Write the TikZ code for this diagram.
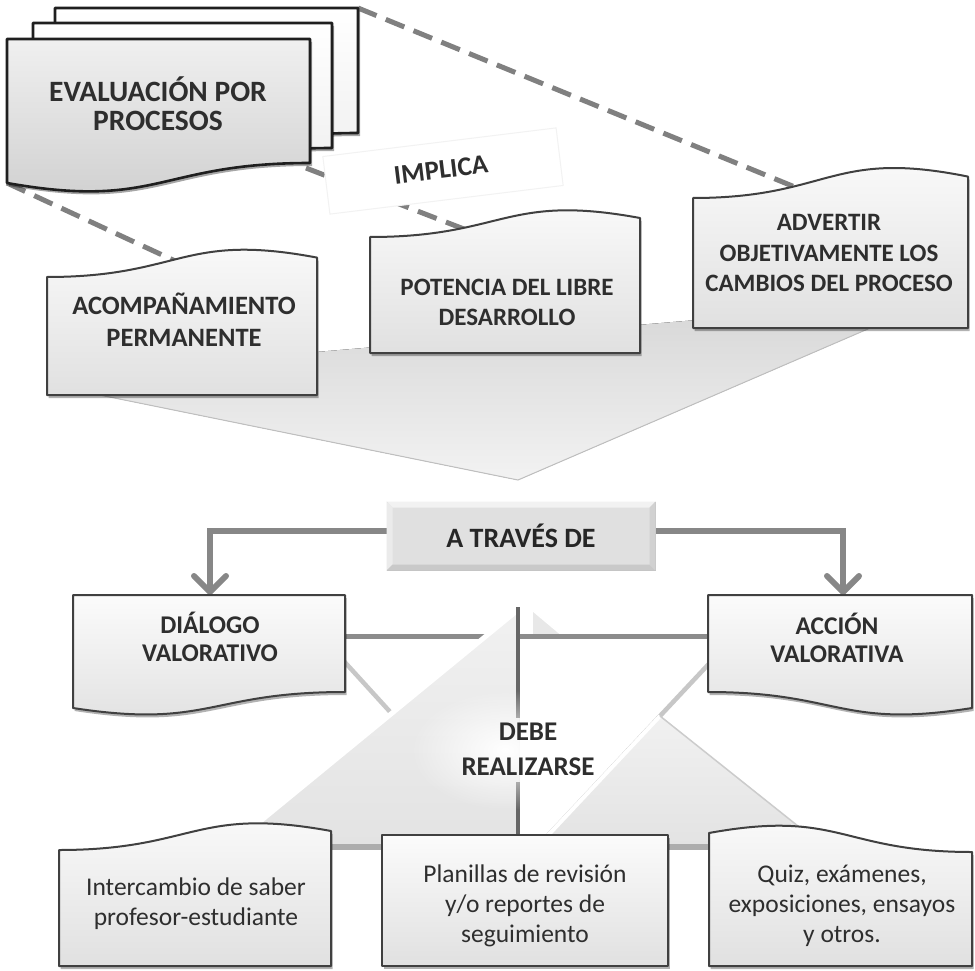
\documentclass[tikz,border=0pt]{standalone}
\usepackage{fontspec}
\setmainfont{Carlito}
\usetikzlibrary{arrows.meta,shadows,fadings,calc}
\tikzfading[name=glowfade, inner color=transparent!0, outer color=transparent!100]
\begin{document}
\begin{tikzpicture}[x=1pt,y=-1pt,
  pgfront/.style={draw=black!88, line width=2.6pt, line join=round, top color=gray!12, bottom color=gray!38,
     drop shadow={shadow xshift=2pt, shadow yshift=-3pt, opacity=0.35, fill=black}},
  pgback/.style={draw=black!88, line width=2.6pt, line join=round, top color=white, bottom color=gray!14,
     drop shadow={shadow xshift=2pt, shadow yshift=-3pt, opacity=0.35, fill=black}},
  box/.style={draw=black!75, line width=2pt, line join=round, top color=gray!3, bottom color=gray!24,
     drop shadow={shadow xshift=1.5pt, shadow yshift=-3pt, opacity=0.3, fill=black}},
  dashln/.style={draw=black!50, line width=5pt, dash pattern=on 20pt off 10pt},
  conn/.style={draw=black!47, line width=6pt, -{Straight Barb[length=16pt,width=32pt,round]}},
  lbl/.style={text=black!82, align=center, font=\bfseries\fontsize{25}{30}\selectfont},
  lbln/.style={text=black!82, align=center, font=\fontsize{25.5}{30}\selectfont},
]
\useasboundingbox[fill=white] (0,0) rectangle (975,971);

% ---------- big gray funnel (top) ----------
\fill[top color=gray!32, bottom color=gray!10] (90,371) -- (935,300) -- (518,480) -- (90,393) -- cycle;
\draw[black!25, line width=1pt] (90,393) -- (518,480) -- (935,300);

% ---------- named anchor coordinates ----------
\coordinate (backTR) at (358,8);
\coordinate (frontBL) at (7,183);
\coordinate (frontBR) at (306,168);
\coordinate (acompTop) at (186,266);
\coordinate (potTop) at (482,236);
\coordinate (advTop) at (807,192);
\coordinate (dialTop) at (210,595);
\coordinate (accTop) at (843,595);

% ---------- dashed connectors ----------
\draw[dashln] (backTR) -- (advTop);
\draw[dashln] (frontBL) -- (acompTop);
\draw[dashln] (frontBR) -- (potTop);

% ---------- IMPLICA label ----------
\filldraw[fill=white, draw=gray!10, line width=1pt, rotate around={7:(443,171)}] (325.5,142) rectangle (560.5,200);
\node[rotate=7, inner sep=0pt, text=black!82, font=\bfseries\fontsize{27}{30}\selectfont] (impl) at (441,170) {IMPLICA};

% ---------- stacked pages ----------
\path[pgback] (55,8) -- (358,8) -- (358,133) .. controls (206.5,133) and (206.5,181) .. (55,154) -- cycle;
\path[pgback] (33,23) -- (332,23) -- (332,148) .. controls (182.5,148) and (182.5,196) .. (33,169) -- cycle;
\path[pgfront] (7,39) -- (310,39) -- (310,163) .. controls (158.5,163) and (158.5,210) .. (7,183) -- cycle;
\node[lbl, font=\bfseries\fontsize{29.5}{29}\selectfont] (eval) at (158,104) {EVALUACIÓN POR\\PROCESOS};

% ---------- upper three boxes ----------
\path[box] (47,395) -- (47,277) .. controls (182,277) and (182,232) .. (317,257.6) -- (317,395) -- cycle;
\node[lbl, font=\bfseries\fontsize{26.5}{32}\selectfont] (acomp) at (184,320) {ACOMPAÑAMIENTO\\PERMANENTE};

\path[box] (370,353) -- (370,237) .. controls (505,237) and (505,193) .. (640,218) -- (640,353) -- cycle;
\node[lbl] (pot) at (507,302) {POTENCIA DEL LIBRE\\DESARROLLO};

\path[box] (693,328) -- (693,198) .. controls (830.5,198) and (830.5,148.6) .. (968,176.6) -- (968,328) -- cycle;
\node[lbl, font=\bfseries\fontsize{25}{30.5}\selectfont] (adv) at (829,253) {ADVERTIR\\OBJETIVAMENTE LOS\\CAMBIOS DEL PROCESO};

% ---------- lower structure ----------
\filldraw[fill=gray!18, draw=white, line width=1.5pt] (532,610) -- (532,636) -- (563,636) -- cycle;
\fill[white] (321,636) -- (735,636) -- (525,860) -- cycle;
\draw[line width=4.5pt, black!22] (321,636) -- (525,860) -- (735,636);
\draw[line width=5pt, black!45] (321,636) -- (735,636);
\fill[top color=gray!11, bottom color=gray!22] (519,609) -- (519,846) -- (230,846) -- cycle;
\draw[white, line width=5pt] (519,609) -- (230,846);
\fill[top color=gray!11, bottom color=gray!22] (660,716) -- (823,846) -- (538,846) -- cycle;
\draw[white, line width=4pt] (660,716) -- (538,846);
\draw[black!20, line width=1.5pt] (660,716) -- (823,846);
\draw[black!32, line width=6pt] (228,847) -- (825,847);
\draw[black!60, line width=3.5pt] (518,607) -- (518,718);
\draw[black!60, line width=3.5pt] (518,782) -- (518,852);
\fill[white, path fading=glowfade] (505,750) ellipse [x radius=95, y radius=60];
\node[lbl, font=\bfseries\fontsize{27}{35}\selectfont] (debe) at (528,749) {DEBE\\REALIZARSE};

% ---------- A TRAVÉS DE ----------
\node[fill=gray!24, draw=gray!50, line width=1pt, minimum width=268pt, minimum height=68pt] (at) at (521,536) {};
\draw[conn] ([yshift=5pt]at.west) -| (dialTop);
\draw[conn] ([yshift=5pt]at.east) -| (accTop);
\fill[gray!10] (at.north west) -- (at.north east) -- ($(at.north east)+(-6,6)$) -- ($(at.north west)+(6,6)$) -- cycle;
\fill[gray!16] (at.north west) -- ($(at.north west)+(6,6)$) -- ($(at.south west)+(6,-6)$) -- (at.south west) -- cycle;
\fill[gray!42] (at.south west) -- (at.south east) -- ($(at.south east)+(-6,-6)$) -- ($(at.south west)+(6,-6)$) -- cycle;
\fill[gray!36] (at.north east) -- ($(at.north east)+(-6,6)$) -- ($(at.south east)+(-6,-6)$) -- (at.south east) -- cycle;
\node[text=black!85, font=\bfseries\fontsize{28}{30}\selectfont] (attext) at (at.center) {A TRAVÉS DE};

% ---------- middle boxes ----------
\path[box] (73,595) -- (345,595) -- (345,692) .. controls (209,692) and (209,729) .. (73,708) -- cycle;
\node[lbl, font=\bfseries\fontsize{25.5}{28}\selectfont] (dial) at (210,637) {DIÁLOGO\\VALORATIVO};

\path[box] (708,595) -- (972,595) -- (972,708) .. controls (840,729) and (840,692) .. (708,692) -- cycle;
\node[lbl, font=\bfseries\fontsize{25.5}{28}\selectfont] (acc) at (837,638) {ACCIÓN\\VALORATIVA};

% ---------- lower three boxes ----------
\path[box] (59,966) -- (59,850) .. controls (195,850) and (195,806) .. (331,831) -- (331,966) -- cycle;
\node[lbln] (inter) at (196,904) {Intercambio de saber\\profesor-estudiante};

\path[box] (382,835) -- (668,835) -- (668,966) -- (382,966) -- cycle;
\node[lbln] (plan) at (525,906) {Planillas de revisión\\y/o reportes de\\seguimiento};

\path[box] (709,966) -- (709,833) .. controls (840.5,809) and (840.5,852) .. (972,852) -- (972,966) -- cycle;
\node[lbln] (quiz) at (842,906) {Quiz, exámenes,\\exposiciones, ensayos\\y otros.};
\end{tikzpicture}
\end{document}
